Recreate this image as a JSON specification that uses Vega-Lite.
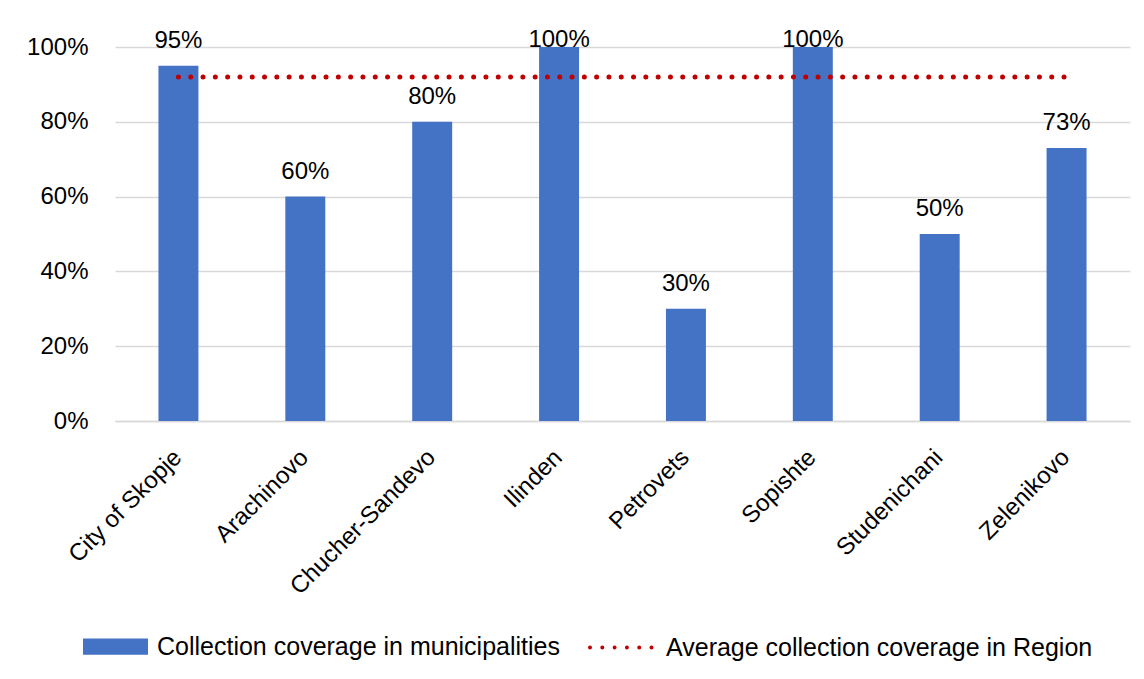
{
  "$schema": "https://vega.github.io/schema/vega-lite/v6.json",
  "width": 1015,
  "height": 374,
  "autosize": {"type": "none"},
  "padding": {"left": 115, "top": 47, "right": 14, "bottom": 258},
  "background": "white",
  "config": {
    "font": "Liberation Sans",
    "view": {"stroke": null},
    "axis": {"labelFont": "Liberation Sans", "labelFontSize": 24, "labelColor": "#000000", "labelLimit": 400},
    "legend": {"labelFont": "Liberation Sans", "labelFontSize": 25, "labelColor": "#000000", "labelLimit": 600}
  },
  "data": {
    "values": [
      {"municipality": "City of Skopje", "coverage": 0.95, "regionAverage": 0.92, "barSeries": "Collection coverage in municipalities", "lineSeries": "Average collection coverage in Region"},
      {"municipality": "Arachinovo", "coverage": 0.60, "regionAverage": 0.92, "barSeries": "Collection coverage in municipalities", "lineSeries": "Average collection coverage in Region"},
      {"municipality": "Chucher-Sandevo", "coverage": 0.80, "regionAverage": 0.92, "barSeries": "Collection coverage in municipalities", "lineSeries": "Average collection coverage in Region"},
      {"municipality": "Ilinden", "coverage": 1.00, "regionAverage": 0.92, "barSeries": "Collection coverage in municipalities", "lineSeries": "Average collection coverage in Region"},
      {"municipality": "Petrovets", "coverage": 0.30, "regionAverage": 0.92, "barSeries": "Collection coverage in municipalities", "lineSeries": "Average collection coverage in Region"},
      {"municipality": "Sopishte", "coverage": 1.00, "regionAverage": 0.92, "barSeries": "Collection coverage in municipalities", "lineSeries": "Average collection coverage in Region"},
      {"municipality": "Studenichani", "coverage": 0.50, "regionAverage": 0.92, "barSeries": "Collection coverage in municipalities", "lineSeries": "Average collection coverage in Region"},
      {"municipality": "Zelenikovo", "coverage": 0.73, "regionAverage": 0.92, "barSeries": "Collection coverage in municipalities", "lineSeries": "Average collection coverage in Region"}
    ]
  },
  "encoding": {
    "x": {
      "field": "municipality",
      "type": "nominal",
      "sort": null,
      "title": null,
      "scale": {"paddingInner": 0.685, "paddingOuter": 0.3425},
      "axis": {"labelAngle": -45, "labelAlign": "right", "labelBaseline": "top", "ticks": false, "domain": true, "domainColor": "#D9D9D9", "domainWidth": 1.5, "labelPadding": 24, "labelOffset": -9}
    }
  },
  "layer": [
    {
      "mark": {"type": "bar"},
      "encoding": {
        "y": {
          "field": "coverage",
          "type": "quantitative",
          "title": null,
          "scale": {"domain": [0, 1]},
          "axis": {"values": [0, 0.2, 0.4, 0.6, 0.8, 1], "format": ".0%", "ticks": false, "domain": false, "gridColor": "#D9D9D9", "gridWidth": 1.5, "labelPadding": 27}
        },
        "fill": {
          "field": "barSeries",
          "type": "nominal",
          "title": null,
          "scale": {"range": ["#4472C4"]},
          "legend": {
            "orient": "none",
            "legendX": -32,
            "legendY": 567,
            "symbolType": "M-1,-0.25H1V0.25H-1Z",
            "symbolSize": 4225,
            "symbolStrokeWidth": 0,
            "labelOffset": 9,
            "padding": 0
          }
        }
      }
    },
    {
      "transform": [{"filter": "datum.coverage < 1"}],
      "mark": {"type": "text", "baseline": "alphabetic", "dy": -18, "fontSize": 24, "color": "#000000"},
      "encoding": {
        "y": {"field": "coverage", "type": "quantitative"},
        "text": {"field": "coverage", "type": "quantitative", "format": ".0%"}
      }
    },
    {
      "transform": [{"filter": "datum.coverage >= 1"}],
      "mark": {"type": "text", "baseline": "alphabetic", "dy": 0, "fontSize": 24, "color": "#000000"},
      "encoding": {
        "y": {"field": "coverage", "type": "quantitative"},
        "text": {"field": "coverage", "type": "quantitative", "format": ".0%"}
      }
    },
    {
      "mark": {"type": "line", "strokeDash": [0, 12.3], "strokeCap": "round", "strokeWidth": 5},
      "encoding": {
        "y": {"field": "regionAverage", "type": "quantitative"},
        "stroke": {
          "field": "lineSeries",
          "type": "nominal",
          "title": null,
          "scale": {"range": ["#C00000"]},
          "legend": {
            "orient": "none",
            "legendX": 473,
            "legendY": 566,
            "symbolType": "stroke",
            "symbolSize": 4225,
            "symbolStrokeWidth": 4,
            "symbolDash": [0, 12.3],
            "symbolStrokeColor": "#C00000",
            "labelOffset": 9,
            "padding": 0,
            "encode": {"symbols": {"update": {"strokeCap": {"value": "round"}}}}
          }
        }
      }
    }
  ]
}
